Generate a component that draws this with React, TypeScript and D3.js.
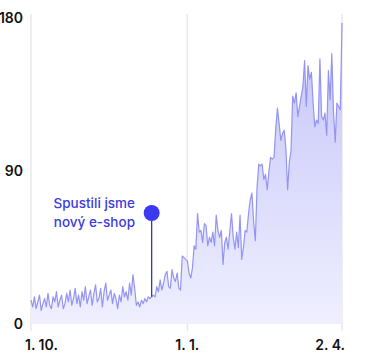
import React from "react";
import * as d3 from "d3";

const START = new Date(2020, 9, 1);
const values: number[] = [
  // Oct 1 – Nov 16
  14, 10, 16, 9, 13, 17, 8, 12, 15, 10, 18, 11, 9, 16, 13, 19, 10, 14, 17, 9, 12,
  18, 13, 20, 11, 15, 21, 12, 17, 10, 19, 14, 22, 12, 16, 20, 11, 18, 23, 13, 15, 21, 10, 19, 24, 14, 17,
  // Nov 17 – Dec 11
  20, 12, 18, 15, 9, 17, 13, 22, 16, 19, 14, 24, 17, 29, 21,
  11, 13, 10, 14, 12, 15, 13, 16, 15,
  16,
  // Dec 12 – Jan 5
  17, 16, 22, 19, 26, 20, 24, 29, 31, 22, 21, 32, 27, 25, 30, 21, 20, 40, 39, 38, 37, 30, 27, 33, 46, 44,
  // Jan 6 – Feb 5
  65, 54, 55, 48, 59, 58, 46, 51, 48, 54, 46, 64, 55, 51, 55, 35, 48, 51, 44, 55, 65, 51, 44, 54, 45, 64, 38, 45, 55, 54, 65,
  // Feb 6 – Apr 2
  73, 77, 60, 49, 80, 94, 93, 94, 85, 88, 79, 90, 98, 97, 98, 115, 127, 118, 108, 112, 114, 103, 79, 95, 102,
  134, 130, 136, 122, 128, 134, 140, 155, 128, 152, 144, 148, 130, 116, 120, 118, 156, 122, 120, 124, 111, 149,
  132, 159, 125, 107, 130, 128, 126, 177,
];
const dates: Date[] = values.map((_, i) => d3.timeDay.offset(START, i));
const yTicks = [0, 90, 180];
const xTickDates = [new Date(2020, 9, 1), new Date(2021, 0, 1), new Date(2021, 3, 2)];
const xTickLabels = ["1. 10.", "1. 1.", "2. 4."];
const xTickAnchors = ["start", "middle", "end"];
const xTickOffsets = [-6, 0, 3];
const annotationIndex = 71;
const annotationLines = ["Spustili jsme", "nový e-shop"];

export default function App() {
  const W = 365, H = 354;
  const x = d3.scaleTime().domain([dates[0], dates[dates.length - 1]]).range([31, 342]);
  const y = d3.scaleLinear().domain([0, 180]).range([324, 18]);
  const pts = values.map((v, i) => ({ d: dates[i], v }));
  const line = d3.line<{ d: Date; v: number }>().x((p) => x(p.d)).y((p) => y(p.v));
  const area = d3
    .area<{ d: Date; v: number }>()
    .x((p) => x(p.d))
    .y0(y(0))
    .y1((p) => y(p.v));
  const ax = x(dates[annotationIndex]);
  const font = "Inter, 'Noto Sans', sans-serif";
  return (
    <svg width={W} height={H} style={{ position: "absolute", left: 0, top: 0 }}>
      <defs>
        <linearGradient id="fillg" x1="0" y1={y(180)} x2="0" y2={y(0)} gradientUnits="userSpaceOnUse">
          <stop offset="0" stopColor="#c3c3fa" />
          <stop offset="1" stopColor="#efefff" />
        </linearGradient>
      </defs>
      {xTickDates.map((d, i) => (
        <line key={"g" + i} x1={x(d)} x2={x(d)} y1={14} y2={331} stroke="#e8e8ec" strokeWidth={1.5} />
      ))}
      <path d={area(pts) || ""} fill="url(#fillg)" />
      <path d={line(pts) || ""} fill="none" stroke="#9494f2" strokeWidth={1.2} strokeLinejoin="round" />
      <line x1={ax} x2={ax} y1={y(values[annotationIndex])} y2={213} stroke="#3434c8" strokeWidth={1.3} />
      <circle cx={ax} cy={213} r={8} fill="#3a3af2" />
      {annotationLines.map((t, i) => (
        <text key={"a" + i} x={135} y={208 + i * 19} textAnchor="end" fontFamily={font} fontSize={13.5}
          fontWeight={500} fill="#3b3be0">{t}</text>
      ))}
      {yTicks.map((t) => (
        <text key={"y" + t} x={23} y={y(t)} dy="0.36em" textAnchor="end" fontFamily={font} fontSize={14}
          fontWeight={600} fill="#111">{t}</text>
      ))}
      {xTickDates.map((d, i) => (
        <text key={"x" + i} x={x(d) + xTickOffsets[i]} y={350} textAnchor={xTickAnchors[i] as any}
          fontFamily={font} fontSize={14} fontWeight={600} fill="#111">{xTickLabels[i]}</text>
      ))}
    </svg>
  );
}
